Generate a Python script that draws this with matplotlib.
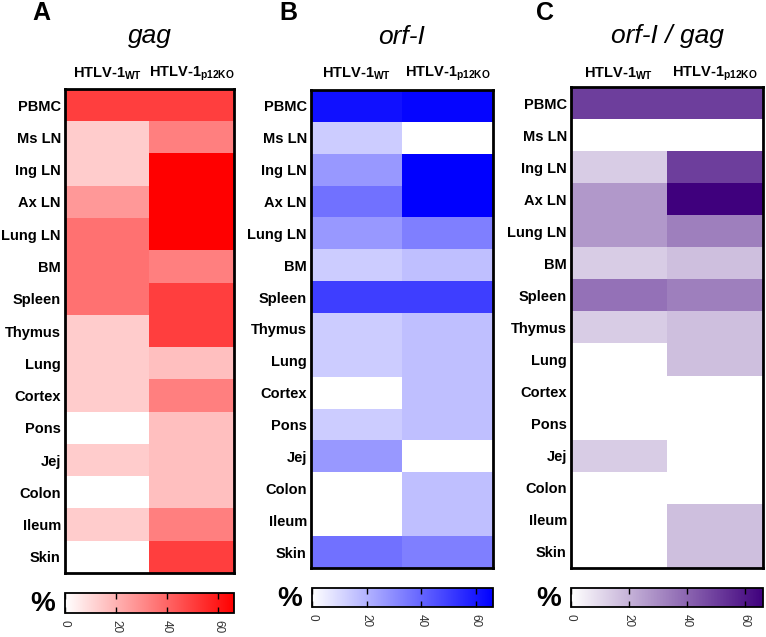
import numpy as np
import matplotlib
matplotlib.use("Agg")
import matplotlib.pyplot as plt
from matplotlib.colors import LinearSegmentedColormap, Normalize
from matplotlib.cm import ScalarMappable

plt.rcParams["font.family"] = ["Liberation Sans", "DejaVu Sans"]
plt.rcParams["mathtext.fontset"] = "custom"
plt.rcParams["mathtext.rm"] = "Liberation Sans:bold"
plt.rcParams["mathtext.it"] = "Liberation Sans:bold"
plt.rcParams["mathtext.bf"] = "Liberation Sans:bold"

tissues = ["PBMC", "Ms LN", "Ing LN", "Ax LN", "Lung LN", "BM", "Spleen", "Thymus",
           "Lung", "Cortex", "Pons", "Jej", "Colon", "Ileum", "Skin"]
columns = [r"HTLV-1$_{\rm WT}$", r"HTLV-1$_{\rm p12KO}$"]

# % positive
gag_wt = [50, 13.3, 13.3, 26.7, 36.7, 36.7, 36.7, 13.3, 13.3, 13.3, 0, 13.3, 0, 13.3, 0]
gag_ko = [50, 33.3, 66.7, 66.7, 66.7, 33.3, 50, 50, 16.7, 33.3, 16.7, 16.7, 16.7, 33.3, 50]
orf_wt = [62, 13.3, 26.7, 36.7, 26.7, 13.3, 50, 13.3, 13.3, 0, 13.3, 26.7, 0, 0, 36.7]
orf_ko = [65, 0, 66.7, 66.7, 33.3, 16.7, 50, 16.7, 16.7, 16.7, 16.7, 0, 16.7, 16.7, 33.3]
ratio_wt = [50, 0, 13.3, 26.7, 26.7, 13.3, 36.7, 13.3, 0, 0, 0, 13.3, 0, 0, 0]
ratio_ko = [50, 0, 50, 66.7, 33.3, 16.7, 33.3, 16.7, 16.7, 0, 0, 0, 0, 16.7, 16.7]

vmax = 66.3
W, H = 766, 637

def box(x0, y0, x1, y1):
    return [x0 / W, 1 - y1 / H, (x1 - x0) / W, (y1 - y0) / H]

panels = [
    dict(letter="A", title="gag", wt=gag_wt, ko=gag_ko, end="#ff0000",
         heat=(65, 89, 234, 573), cbar=(65, 593, 234, 613), letter_x=41, title_y=36),
    dict(letter="B", title="orf-I", wt=orf_wt, ko=orf_ko, end="#0000ff",
         heat=(311, 90, 493, 568), cbar=(312, 588, 493, 607), letter_x=288, title_y=37),
    dict(letter="C", title="orf-I / gag", wt=ratio_wt, ko=ratio_ko, end="#3f007d",
         heat=(571, 87, 763, 568), cbar=(571, 588, 763, 607), letter_x=545, title_y=36),
]

fig = plt.figure(figsize=(W / 100, H / 100), dpi=100)

for p in panels:
    cmap = LinearSegmentedColormap.from_list(p["letter"], ["#ffffff", p["end"]])
    norm = Normalize(0, vmax)
    data = np.column_stack([p["wt"], p["ko"]])

    x0, y0, x1, y1 = p["heat"]
    ax = fig.add_axes(box(x0, y0, x1, y1))
    ax.imshow(data, cmap=cmap, norm=norm, aspect="auto", interpolation="nearest")
    ax.set_xticks([])
    ax.set_yticks(range(len(tissues)))
    ax.set_yticklabels(tissues, fontsize=10.5, fontweight="bold")
    ax.tick_params(axis="y", length=0, pad=3)
    for s in ax.spines.values():
        s.set_linewidth(2)

    xm = (x0 + x1) / 2
    for i, lab in enumerate(columns):
        cx = x0 + (x1 - x0) * (0.25 + 0.5 * i)
        fig.text(cx / W, 1 - 74 / H, lab, ha="center", va="center",
                 fontsize=10.5, fontweight="bold")
    fig.text(xm / W, 1 - p["title_y"] / H, p["title"], ha="center", va="center",
             fontsize=19, style="italic")
    fig.text(p["letter_x"] / W, 1 - 13 / H, p["letter"], ha="center", va="center",
             fontsize=18, fontweight="bold")

    cx0, cy0, cx1, cy1 = p["cbar"]
    cax = fig.add_axes(box(cx0, cy0, cx1, cy1))
    cb = fig.colorbar(ScalarMappable(norm=norm, cmap=cmap), cax=cax,
                      orientation="horizontal", ticks=[0, 20, 40, 60])
    cb.outline.set_linewidth(1.3)
    cax.tick_params(direction="in", top=True, bottom=True, length=4, width=1,
                    labelsize=8.5, labelcolor="#333333", pad=5)
    for t in cax.get_xticklabels():
        t.set_rotation(270)
    fig.text((cx0 - 22) / W, 1 - ((cy0 + cy1) / 2 + 1) / H, "%", ha="center",
             va="center", fontsize=20, fontweight="bold")

fig.savefig("out.png", dpi=100)
